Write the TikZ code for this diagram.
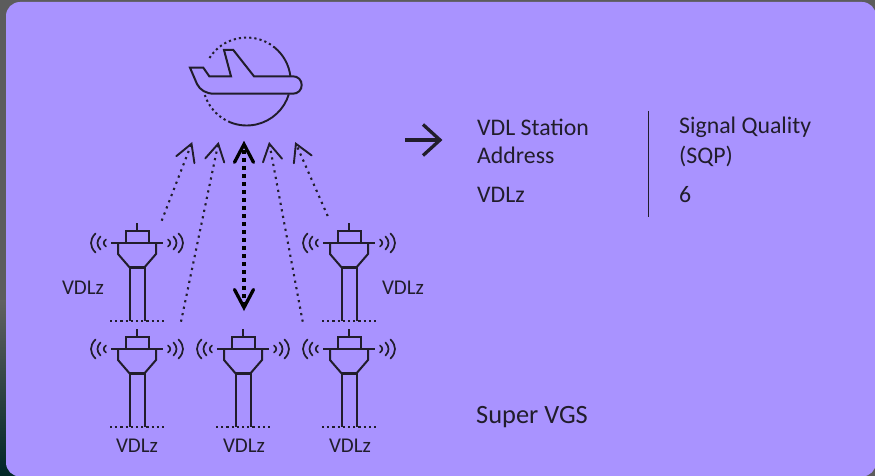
\documentclass[tikz,border=0pt]{standalone}
\usepackage{fontspec}
\setmainfont{Carlito}
\usetikzlibrary{arrows.meta,calc}
\definecolor{panel}{HTML}{A993FF}
\definecolor{ink}{HTML}{211D2B}
\makeatletter
\pgfdeclarearrow{name=ChevThin,
  setup code={\pgfarrowssettipend{0.5pt}\pgfarrowssetlineend{-2pt}\pgfarrowssetbackend{-17pt}\pgfarrowshullpoint{0pt}{0pt}\pgfarrowshullpoint{-17pt}{10pt}\pgfarrowshullpoint{-17pt}{-10pt}},
  drawing code={\pgfsetdash{}{0pt}\pgfsetlinewidth{1.9pt}\pgfsetroundcap\pgfsetmiterjoin
    \pgfpathmoveto{\pgfqpoint{-17pt}{9.7pt}}\pgfpathlineto{\pgfqpoint{0pt}{0pt}}\pgfpathlineto{\pgfqpoint{-17pt}{-9.7pt}}\pgfusepathqstroke}}
\pgfdeclarearrow{name=ChevThick,
  setup code={\pgfarrowssettipend{1pt}\pgfarrowssetlineend{-2pt}\pgfarrowssetbackend{-18pt}\pgfarrowshullpoint{0pt}{0pt}\pgfarrowshullpoint{-18pt}{10pt}\pgfarrowshullpoint{-18pt}{-10pt}},
  drawing code={\pgfsetdash{}{0pt}\pgfsetlinewidth{3.3pt}\pgfsetroundcap\pgfsetmiterjoin
    \pgfpathmoveto{\pgfqpoint{-18pt}{9.5pt}}\pgfpathlineto{\pgfqpoint{0pt}{0pt}}\pgfpathlineto{\pgfqpoint{-18pt}{-9.5pt}}\pgfusepathqstroke}}
\pgfdeclarearrow{name=ChevBig,
  setup code={\pgfarrowssettipend{1pt}\pgfarrowssetlineend{-2pt}\pgfarrowssetbackend{-18pt}\pgfarrowshullpoint{0pt}{0pt}\pgfarrowshullpoint{-18pt}{17pt}\pgfarrowshullpoint{-18pt}{-17pt}},
  drawing code={\pgfsetdash{}{0pt}\pgfsetlinewidth{3.3pt}\pgfsetbuttcap\pgfsetmiterjoin
    \pgfpathmoveto{\pgfqpoint{-17pt}{15.5pt}}\pgfpathlineto{\pgfqpoint{0pt}{0pt}}\pgfpathlineto{\pgfqpoint{-17pt}{-15.5pt}}\pgfusepathqstroke}}
\makeatother
\tikzset{
  ground/.style={ink,line width=2pt,dash pattern=on 2.2pt off 3pt},
  struct/.style={ink,line width=2pt,line join=miter},
  wave/.style={ink,line width=1.7pt,line cap=round},
  thinarrow/.style={ink,line width=2.1pt,dash pattern=on 2.2pt off 4.4pt,-{ChevThin}},
  thickarrow/.style={black,line width=3.6pt,dash pattern=on 3.6pt off 4.4pt,{ChevThick}-{ChevThick}},
  bigarrow/.style={ink,line width=3.2pt,-{ChevBig}},
  bigtext/.style={text=ink,font=\fontsize{23.8pt}{28pt}\selectfont,anchor=west,inner sep=0pt},
  smalltext/.style={text=ink,font=\fontsize{21pt}{24pt}\selectfont,inner sep=0pt},
  tower/.pic={
    \draw[struct] (0,-20) -- (0,-12.5);
    \draw[struct] (-11.5,0) -- (-11.5,-12.5) -- (12,-12.5) -- (12,0);
    \draw[struct] (-26,0) -- (26,0);
    \draw[struct] (-19,0) -- (-19,11) -- (-7.5,24.3) -- (7.5,24.3) -- (19,11) -- (19,0);
    \draw[ink,line width=2.8pt] (-7.5,24.3) -- (7.5,24.3);
    \draw[struct] (-7.5,24.3) -- (-7.5,77.5);
    \draw[struct] (7.5,24.3) -- (7.5,77.5);
    \draw[ground] (-27,77.5) -- (27,77.5);
    \foreach \s in {-1,1}{
      \draw[wave] (\s*31,-3.5) .. controls (\s*34,-1.5) and (\s*34,1.5) .. (\s*31,3.5);
      \draw[wave] (\s*36.5,-6.5) .. controls (\s*40.5,-2.5) and (\s*40.5,2.5) .. (\s*36.5,6.5);
      \draw[wave] (\s*41.5,-9.5) .. controls (\s*47.5,-3.5) and (\s*47.5,3.5) .. (\s*41.5,9.5);
    }
  }
}
\begin{document}
\begin{tikzpicture}[x=1pt,y=-1pt]
\useasboundingbox (0,0) rectangle (875,476);
\fill[black!64] (0,0) rectangle (875,476);
\shade[top color=black!62,bottom color=black!85!cyan] (0,300) rectangle (22,476);
\fill[panel,rounded corners=14pt] (6,2) rectangle (876,476.5);

% plane
\coordinate (c) at (246.7,81.5);
\draw[ink,line width=1.9pt] ($(c)+(-50:44)$) arc[start angle=-50,end angle=-7,radius=44];
\draw[ink,line width=1.9pt] ($(c)+(17:44)$) arc[start angle=17,end angle=112,radius=44];
\draw[ground] ($(c)+(-50:44)$) arc[start angle=-50,end angle=-151,radius=44];
\draw[ground] ($(c)+(112:44)$) arc[start angle=112,end angle=162,radius=44];
\draw[ink,line width=2pt,line join=miter]
  (190,67.7) -- (203.3,67.7) -- (209.3,76.3) -- (231,76.3) -- (224,50) -- (233.3,50)
  -- (254,76.3) -- (293,76.3) .. controls (298,76.3) and (301.7,80) .. (301.7,85)
  .. controls (301.7,90) and (298,93.7) .. (293,93.7) -- (214,93.7)
  .. controls (206,93.7) and (200,90) .. (197,84) -- cycle;

% towers
\pic (t1) at (137,243) {tower};
\pic (t2) at (349,243) {tower};
\pic (t3) at (137,349) {tower};
\pic (t4) at (243,349) {tower};
\pic (t5) at (349,349) {tower};

% connectors
\coordinate (a1) at (161.7,220.7); \coordinate (b1) at (191.7,143.3);
\coordinate (a2) at (181,321.7);   \coordinate (b2) at (218.3,143.3);
\coordinate (a3) at (244,308.5);   \coordinate (b3) at (244,143.3);
\coordinate (a4) at (302.7,321.7); \coordinate (b4) at (269.3,143.3);
\coordinate (a5) at (327.7,216);   \coordinate (b5) at (295.7,143.3);
\draw[thinarrow] (a1) -- (b1);
\draw[thinarrow] (a2) -- (b2);
\draw[thinarrow] (a4) -- (b4);
\draw[thinarrow] (a5) -- (b5);
\draw[thickarrow] (a3) -- (b3);

\coordinate (r1) at (405,140); \coordinate (r2) at (441,140);
\draw[bigarrow] (r1) -- (r2);

% labels
\node[smalltext] (l1) at (83,288) {VDLz};
\node[smalltext] (l2) at (403,288) {VDLz};
\node[smalltext] (l3) at (137,446) {VDLz};
\node[smalltext] (l4) at (244,446) {VDLz};
\node[smalltext] (l5) at (350,446) {VDLz};
\node[bigtext] (h1) at (477,127) {VDL Station};
\node[bigtext] (h2) at (477,155.5) {Address};
\node[bigtext] (h3) at (477,195) {VDLz};
\node[bigtext] (s1) at (679,127) {Signal Quality};
\node[bigtext] (s2) at (679,156) {(SQP)};
\node[bigtext] (s3) at (679,195) {6};
\node[bigtext,font=\fontsize{26.4pt}{30pt}\selectfont] (v) at (476,417) {Super VGS};
\coordinate (d1) at (648.3,111); \coordinate (d2) at (648.3,217);
\draw[ink,line width=1.3pt] (d1) -- (d2);
\end{tikzpicture}
\end{document}
